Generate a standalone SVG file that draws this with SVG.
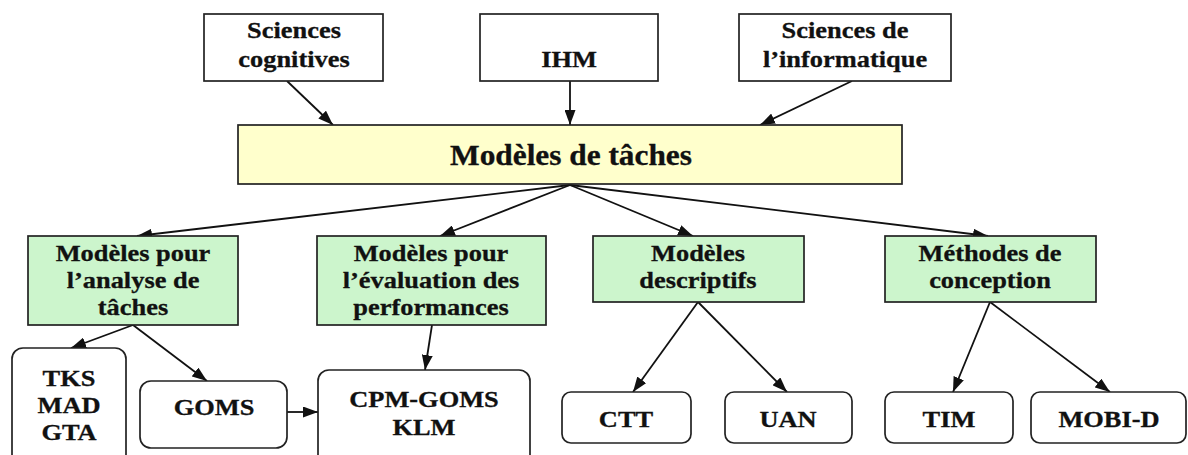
<svg xmlns="http://www.w3.org/2000/svg" width="1188" height="455" viewBox="0 0 1188 455">
<defs>
<marker id="ah" markerWidth="15" markerHeight="11" refX="15" refY="5.5" orient="auto" markerUnits="userSpaceOnUse">
<path d="M0,0 L15,5.5 L0,11 z" fill="#111"/>
</marker>
<style>
.box{stroke:#222;stroke-width:1.7;fill:#fff}
.main{fill:#ffffcc}
.grn{fill:#ccf5cc}
.t{font-family:"Liberation Serif","Times New Roman",serif;font-weight:bold;font-size:24px;fill:#111;stroke:#111;stroke-width:0.3;text-anchor:middle}
.big{font-size:28.5px}
.c{stroke:#111;stroke-width:1.8;fill:none;marker-end:url(#ah)}
</style>
</defs>
<rect width="1188" height="455" fill="#fff"/>
<g id="connectors">
<line class="c" x1="287" y1="81" x2="333" y2="125"/>
<line class="c" x1="570" y1="81" x2="570" y2="125"/>
<line class="c" x1="852" y1="81" x2="760" y2="125"/>
<line class="c" x1="570" y1="185" x2="137" y2="236"/>
<line class="c" x1="570" y1="185" x2="440" y2="236"/>
<line class="c" x1="570" y1="185" x2="693" y2="236"/>
<line class="c" x1="570" y1="185" x2="988" y2="236"/>
<line class="c" x1="133" y1="325" x2="71" y2="348"/>
<line class="c" x1="133" y1="325" x2="207" y2="381"/>
<line class="c" x1="287" y1="412" x2="318" y2="412"/>
<line class="c" x1="432" y1="325" x2="425" y2="370"/>
<line class="c" x1="698" y1="302" x2="633" y2="392"/>
<line class="c" x1="698" y1="302" x2="787" y2="392"/>
<line class="c" x1="990" y1="302" x2="953" y2="392"/>
<line class="c" x1="990" y1="302" x2="1110" y2="392"/>
</g>
<g id="sciences-cognitives">
<rect class="box" x="204" y="14" width="179" height="67"/>
<text class="t" transform="translate(294,38) scale(1.1,1)"><tspan x="0" y="0">Sciences</tspan><tspan x="0" y="29">cognitives</tspan></text>
</g>
<g id="ihm">
<rect class="box" x="480" y="14" width="178" height="67"/>
<text class="t" transform="translate(569,67) scale(1.1,1)" x="0" y="0">IHM</text>
</g>
<g id="sciences-informatique">
<rect class="box" x="739" y="14" width="212" height="67"/>
<text class="t" transform="translate(845,38) scale(1.1,1)"><tspan x="0" y="0">Sciences de</tspan><tspan x="0" y="29">l’informatique</tspan></text>
</g>
<g id="modeles-taches">
<rect class="box main" x="238" y="125" width="664" height="59"/>
<text class="t big" transform="translate(571,165) scale(1.1,1)" x="0" y="0">Modèles de tâches</text>
</g>
<g id="analyse">
<rect class="box grn" x="28" y="236" width="210" height="89"/>
<text class="t" transform="translate(133,261) scale(1.1,1)"><tspan x="0" y="0">Modèles pour</tspan><tspan x="0" y="27">l’analyse de</tspan><tspan x="0" y="54">tâches</tspan></text>
</g>
<g id="evaluation">
<rect class="box grn" x="317" y="236" width="229" height="89"/>
<text class="t" transform="translate(431,261) scale(1.1,1)"><tspan x="0" y="0">Modèles pour</tspan><tspan x="0" y="27">l’évaluation des</tspan><tspan x="0" y="54">performances</tspan></text>
</g>
<g id="descriptifs">
<rect class="box grn" x="593" y="236" width="211" height="66"/>
<text class="t" transform="translate(698,261) scale(1.1,1)"><tspan x="0" y="0">Modèles</tspan><tspan x="0" y="27">descriptifs</tspan></text>
</g>
<g id="methodes">
<rect class="box grn" x="885" y="236" width="211" height="66"/>
<text class="t" transform="translate(990,261) scale(1.1,1)"><tspan x="0" y="0">Méthodes de</tspan><tspan x="0" y="27">conception</tspan></text>
</g>
<g id="tks">
<rect class="box" x="12" y="348" width="114" height="120" rx="11"/>
<text class="t" transform="translate(69,386) scale(1.1,1)"><tspan x="0" y="0">TKS</tspan><tspan x="0" y="27">MAD</tspan><tspan x="0" y="54">GTA</tspan></text>
</g>
<g id="goms">
<rect class="box" x="140" y="381" width="147" height="67" rx="11"/>
<text class="t" transform="translate(214,415) scale(1.1,1)" x="0" y="0">GOMS</text>
</g>
<g id="cpm">
<rect class="box" x="318" y="370" width="212" height="100" rx="11"/>
<text class="t" transform="translate(424,407) scale(1.1,1)"><tspan x="0" y="0">CPM-GOMS</tspan><tspan x="0" y="28">KLM</tspan></text>
</g>
<g id="ctt">
<rect class="box" x="562" y="392" width="129" height="51" rx="9"/>
<text class="t" transform="translate(626,427) scale(1.1,1)" x="0" y="0">CTT</text>
</g>
<g id="uan">
<rect class="box" x="725" y="392" width="127" height="51" rx="9"/>
<text class="t" transform="translate(788,427) scale(1.1,1)" x="0" y="0">UAN</text>
</g>
<g id="tim">
<rect class="box" x="885" y="392" width="128" height="51" rx="9"/>
<text class="t" transform="translate(949,427) scale(1.1,1)" x="0" y="0">TIM</text>
</g>
<g id="mobid">
<rect class="box" x="1031" y="392" width="155" height="51" rx="9"/>
<text class="t" transform="translate(1109,427) scale(1.1,1)" x="0" y="0">MOBI-D</text>
</g>
</svg>
